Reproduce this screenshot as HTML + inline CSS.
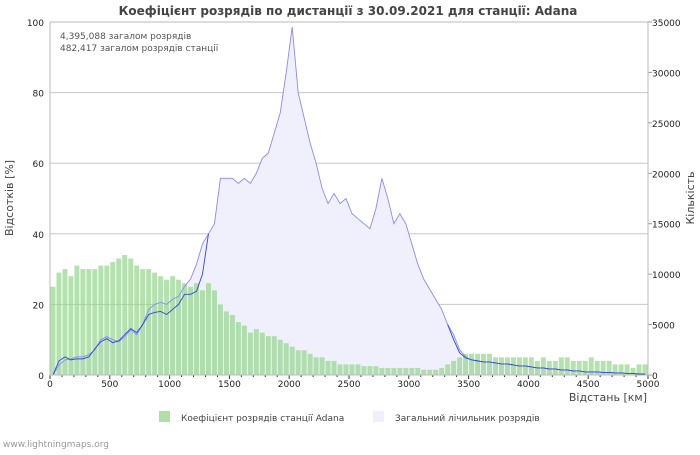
<!DOCTYPE html>
<html><head><meta charset="utf-8"><style>
body{margin:0;background:#fff;width:700px;height:450px;overflow:hidden}
svg text{font-family:"DejaVu Sans","Liberation Sans",sans-serif}
</style></head><body>
<svg id="chart" width="700" height="450">
<text x="348" y="15" text-anchor="middle" font-size="12" font-weight="bold" fill="#444">Коефіцієнт розрядів по дистанції з 30.09.2021 для станції: Adana</text>
<g id="grid"></g><g id="area"></g><g id="bars"></g><g id="lines"></g><g id="axes"></g>
<text x="60" y="39" font-size="9" fill="#555">4,395,088 загалом розрядів</text>
<text x="60" y="51" font-size="9" fill="#555">482,417 загалом розрядів станції</text>
<text transform="translate(13,198) rotate(-90)" text-anchor="middle" font-size="11" fill="#444">Відсотків   [%]</text>
<text transform="translate(694,198) rotate(-90)" text-anchor="middle" font-size="11" fill="#444">Кількість</text>
<text x="647" y="401" text-anchor="end" font-size="11" fill="#444">Відстань   [км]</text>
<rect x="159" y="411" width="11" height="11" fill="#b0e0a8"/>
<text x="181" y="421" font-size="9" fill="#444">Коефіцієнт розрядів станції Adana</text>
<rect x="373" y="411" width="11" height="11" fill="#f0f0fc"/>
<text x="395" y="421" font-size="9" fill="#444">Загальний лічильник розрядів</text>
<text x="3" y="447" font-size="9" fill="#999">www.lightningmaps.org</text>
</svg>
<script>
const ratio=[25,29,30,28,31,30,30,30,31,31,32,33,34,33,31,30,30,29,28,27,28,27,26,25,26,24,26,24,20,18,17,15,14,12,13,12,11,11,10,9,8,7,7,6,5,5,4,4,3,3,3,3,2.5,2.5,2.5,2,2,2,2,2,2,2,1.5,1.5,1.5,2,3,4,5,6,6,6,6,6,5,5,5,5,5,5,5,4,5,4,4,5,5,4,4,4,5,4,4,4,3,3,3,2,3,3];
const total=[0,1000,1500,1600,1800,1800,2000,2500,3500,3800,3500,3300,3800,4500,4000,5000,6500,7000,7200,7000,7500,7800,8800,9500,11000,13000,14000,15000,19500,19500,19500,19000,19500,19000,20000,21500,22000,24000,26000,30000,34500,28000,25500,23000,21000,18500,17000,18000,17000,17500,16000,15500,15000,14500,16500,19500,17500,15000,16000,15000,13000,11000,9500,8500,7500,6500,5000,4000,2500,1800,1500,1400,1300,1300,1200,1100,1100,1000,900,900,800,700,700,600,600,500,500,400,400,300,300,300,250,250,200,200,150,150,100,100];
const station=[0,1400,1800,1500,1600,1600,1800,2600,3300,3600,3200,3400,4000,4600,4200,5000,6000,6200,6300,6000,6500,7000,8000,8000,8300,10000,14000,null,null,null,null,null,null,null,null,null,null,null,null,null,null,null,null,null,null,null,null,null,null,null,null,null,null,null,null,null,null,null,null,null,null,null,null,null,null,null,5000,3500,2200,1700,1500,1400,1300,1300,1200,1100,1100,1000,900,900,800,700,700,600,600,500,500,400,400,300,300,300,250,250,200,200,150,150,100,100];
const leftTicks=[0,20,40,60,80,100];
const rightTicks=[0,5000,10000,15000,20000,25000,30000,35000];
const xTicks=[0,500,1000,1500,2000,2500,3000,3500,4000,4500,5000];
const binKm=50;
const X0=50,X1=648,Y0=375,Y1=22;
const sx=v=>X0+(v/5000)*(X1-X0);
const syL=v=>Y0-(v/100)*(Y0-Y1);
const syR=v=>Y0-(v/35000)*(Y0-Y1);
const NS="http://www.w3.org/2000/svg";
function mk(tag,attrs,parent){const e=document.createElementNS(NS,tag);for(const k in attrs)e.setAttribute(k,attrs[k]);document.getElementById(parent).appendChild(e);return e;}
leftTicks.forEach(t=>{
 if(t>0&&t<100){const g=mk('line',{x1:X0,x2:X1,y1:syL(t),y2:syL(t),stroke:'#c8c8c8'},'grid');
 
 }
 const l=mk('text',{x:44,y:syL(t)+4,'text-anchor':'end','font-size':9,fill:'#222'},'axes');l.textContent=t;
 
 
});
rightTicks.forEach(t=>{
 const l=mk('text',{x:652,y:syR(t)+4,'font-size':9,fill:'#222'},'axes');l.textContent=t;
 
 
 mk('line',{x1:X1,x2:X1+4,y1:syR(t),y2:syR(t),stroke:'#999'},'axes');
});
xTicks.forEach(t=>{
 const l=mk('text',{x:sx(t),y:387,'text-anchor':'middle','font-size':9,fill:'#222'},'axes');l.textContent=t;
 
 
});
for(let k=0;k<=50;k++){mk('line',{x1:sx(k*100),x2:sx(k*100),y1:Y0,y2:Y0+(k%5?2:4),stroke:'#333'},'axes');}
let pts=total.map((v,i)=>sx(i*binKm+binKm/2)+','+syR(v));
const ar=mk('polygon',{points:sx(0)+','+Y0+' '+pts.join(' ')+' '+sx(5000)+','+Y0,fill:'#f0f0fc'},'area');


const bw=(sx(binKm)-sx(0));
ratio.forEach((v,i)=>{
 const r=mk('rect',{x:sx(i*binKm)+0.5,y:syL(v),width:bw-1,height:Y0-syL(v),fill:'rgb(140,210,130)','fill-opacity':0.65},'bars');
 
 
});
const tl=mk('polyline',{points:pts.join(' '),fill:'none',stroke:'#8a8af5','stroke-width':0.9},'lines');


let seg=[];const segs=[];
station.forEach((v,i)=>{if(v===null){if(seg.length)segs.push(seg);seg=[];}else seg.push(sx(i*binKm+binKm/2)+','+syR(v));});
if(seg.length)segs.push(seg);
segs.forEach(s=>{
 const sl=mk('polyline',{points:s.join(' '),fill:'none',stroke:'#3344dd','stroke-width':0.9},'lines');
 
 
});
mk('rect',{x:X0,y:Y1,width:X1-X0,height:Y0-Y1,fill:'none',stroke:'#bbb'},'axes');
</script>
</body></html>
